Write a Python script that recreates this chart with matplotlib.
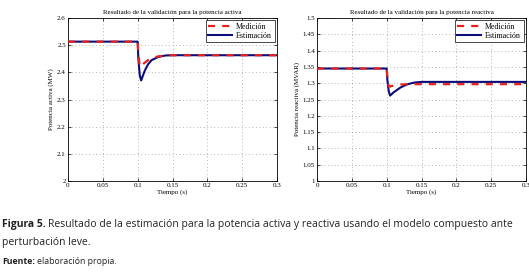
import matplotlib
matplotlib.use("Agg")
import matplotlib.pyplot as plt

# potencia activa (MW)
t_act = [0, 0.1, 0.101, 0.103, 0.105, 0.11, 0.115, 0.12, 0.13, 0.14, 0.15, 0.2, 0.3]
med_act = [2.513, 2.513, 2.47, 2.42, 2.425, 2.435, 2.445, 2.452, 2.459, 2.462, 2.463, 2.463, 2.463]
est_act = [2.513, 2.513, 2.45, 2.39, 2.37, 2.405, 2.43, 2.445, 2.457, 2.462, 2.463, 2.463, 2.463]

# potencia reactiva (MVAR)
t_rea = [0, 0.1, 0.101, 0.103, 0.105, 0.11, 0.12, 0.13, 0.14, 0.15, 0.2, 0.3]
med_rea = [1.345, 1.345, 1.32, 1.29, 1.29, 1.293, 1.296, 1.297, 1.297, 1.297, 1.297, 1.297]
est_rea = [1.345, 1.345, 1.31, 1.275, 1.262, 1.272, 1.287, 1.297, 1.302, 1.304, 1.304, 1.304]

xticks = [0, 0.05, 0.1, 0.15, 0.2, 0.25, 0.3]
xticklabels = ["0", "0.05", "0.1", "0.15", "0.2", "0.25", "0.3"]
yticks_act = [2, 2.1, 2.2, 2.3, 2.4, 2.5, 2.6]
yticklabels_act = ["2", "2.1", "2.2", "2.3", "2.4", "2.5", "2.6"]
yticks_rea = [1, 1.05, 1.1, 1.15, 1.2, 1.25, 1.3, 1.35, 1.4, 1.45, 1.5]
yticklabels_rea = ["1", "1.05", "1.1", "1.15", "1.2", "1.25", "1.3", "1.35", "1.4", "1.45", "1.5"]

plt.rcParams["font.family"] = ["Liberation Serif", "DejaVu Serif"]

W, H = 529, 272
fig = plt.figure(figsize=(W / 100, H / 100), dpi=100)

def setup(ax, t, med, est, yt, ytl, ylim, title, ylabel):
    ax.plot(t, med, color="#e8211e", lw=1.6, ls=(0, (3.2, 3.2)), label="Medición", zorder=3)
    ax.plot(t, est, color="#0b0d7a", lw=1.5, label="Estimación", zorder=2)
    ax.set_xlim(0, 0.3)
    ax.set_ylim(*ylim)
    ax.set_xticks(xticks)
    ax.set_xticklabels(xticklabels, fontsize=5)
    ax.set_yticks(yt)
    ax.set_yticklabels(ytl, fontsize=5)
    ax.tick_params(direction="in", length=2, width=0.5, pad=1.5, top=True, right=True)
    ax.grid(True, ls=(0, (1, 4)), lw=0.5, color="#777777")
    ax.set_title(title, fontsize=5, pad=3)
    ax.set_xlabel("Tiempo (s)", fontsize=5, labelpad=1)
    ax.set_ylabel(ylabel, fontsize=5, labelpad=2)
    for s in ax.spines.values():
        s.set_linewidth(0.6)
    leg = ax.legend(loc="upper right", fontsize=5.8, handlelength=3.0, borderpad=0.3,
                    labelspacing=0.1, handletextpad=0.5, fancybox=False, framealpha=1,
                    edgecolor="black", borderaxespad=0.3)
    leg.get_frame().set_linewidth(0.5)

ax1 = fig.add_axes([68 / W, 1 - 181 / H, 209 / W, 163 / H])
setup(ax1, t_act, med_act, est_act, yticks_act, yticklabels_act, (2, 2.6),
      "Resultado de la validación para la potencia activa", "Potencia activa (MW)")

ax2 = fig.add_axes([317 / W, 1 - 181 / H, 209 / W, 163 / H])
setup(ax2, t_rea, med_rea, est_rea, yticks_rea, yticklabels_rea, (1, 1.5),
      "Resultado de la validación para la potencia reactiva", "Potencia reactiva (MVAR)")

cap = ["Open Sans", "DejaVu Sans"]
col = "#222222"
r = fig.canvas.get_renderer()

def pair(y, bold, rest, fs):
    t1 = fig.text(2 / W, 1 - y / H, bold, fontsize=fs, fontweight="bold", family=cap,
                  color=col, va="center")
    bb = t1.get_window_extent(renderer=r)
    fig.text(bb.x1 / W + 2.5 / W, 1 - y / H, rest, fontsize=fs, family=cap,
             color=col, va="center")

pair(224, "Figura 5.",
     "Resultado de la estimación para la potencia activa y reactiva usando el modelo compuesto ante", 7.5)
fig.text(2 / W, 1 - 242 / H, "perturbación leve.", fontsize=7.5, family=cap,
         color=col, va="center")
pair(262, "Fuente:", "elaboración propia.", 6.3)

fig.savefig("out.png", dpi=100)
